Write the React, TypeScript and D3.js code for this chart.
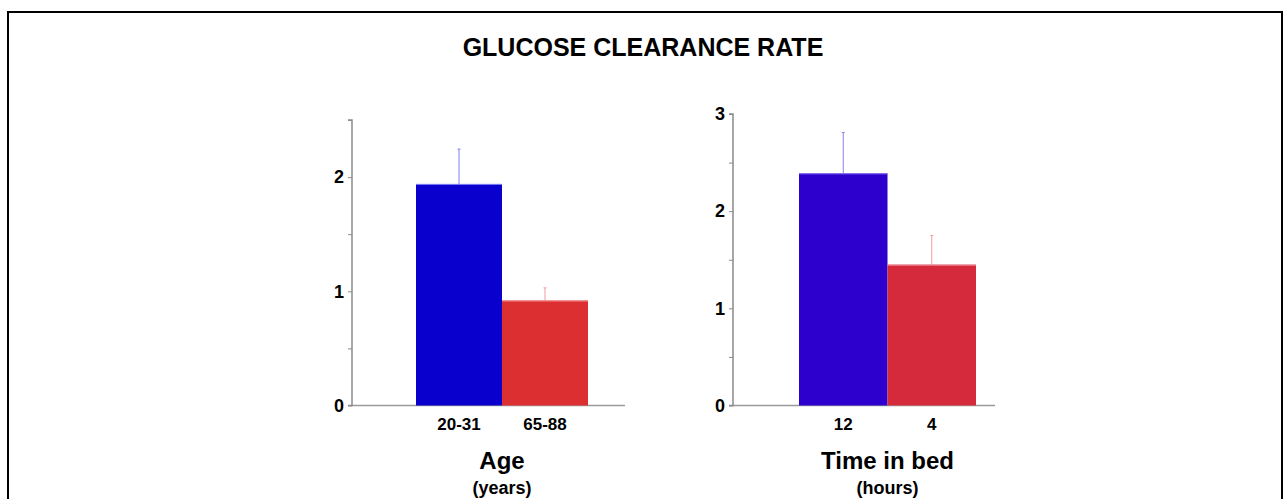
import React, { useEffect, useRef } from "react";
import * as d3 from "d3";

const title = "GLUCOSE CLEARANCE RATE";

const ageCategories = ["20-31", "65-88"];
const ageValues = [1.94, 0.92];
const ageErrors = [2.245, 1.03];
const ageTicks = [0, 0.5, 1, 1.5, 2, 2.5];
const ageColors = ["#0A00CE", "#DC2F32"];
const ageErrColors = ["#7F7FF5", "#F29A9A"];

const bedCategories = ["12", "4"];
const bedValues = [2.39, 1.45];
const bedErrors = [2.81, 1.75];
const bedTicks = [0, 0.5, 1, 1.5, 2, 2.5, 3];
const bedColors = ["#2D00CD", "#D42A3B"];
const bedErrColors = ["#8F7FF0", "#EE9AA4"];

const FONT = "'Liberation Sans', Arial, Helvetica, sans-serif";

type PanelSpec = {
  cats: string[];
  vals: number[];
  errs: number[];
  ticks: number[];
  colors: string[];
  errColors: string[];
  yMax: number;
  axisX: number;
  axisEnd: number;
  y0: number;
  yTop: number;
  band: [number, number];
  label: string;
  sub: string;
};

function drawPanel(g: any, p: PanelSpec) {
  const y = d3.scaleLinear().domain([0, p.yMax]).range([p.y0, p.yTop]);
  const x = d3.scaleBand().domain(p.cats).range(p.band).padding(0);

  g.append("line")
    .attr("x1", p.axisX).attr("x2", p.axisEnd)
    .attr("y1", y(0)).attr("y2", y(0))
    .attr("stroke", "#9a9a9a").attr("stroke-width", 1.5);

  p.cats.forEach((c, i) => {
    const bx = x(c)!;
    const bw = x.bandwidth();
    g.append("line")
      .attr("x1", bx + bw / 2).attr("x2", bx + bw / 2)
      .attr("y1", y(p.vals[i])).attr("y2", y(p.errs[i]))
      .attr("stroke", p.errColors[i]).attr("stroke-width", 1);
    g.append("line")
      .attr("x1", bx + bw / 2 - 1.5).attr("x2", bx + bw / 2 + 1.5)
      .attr("y1", y(p.errs[i])).attr("y2", y(p.errs[i]))
      .attr("stroke", p.errColors[i]).attr("stroke-width", 1);
    g.append("rect")
      .attr("x", bx).attr("y", y(p.vals[i]))
      .attr("width", bw).attr("height", y(0) - y(p.vals[i]))
      .attr("fill", p.colors[i]);
    g.append("line")
      .attr("x1", bx).attr("x2", bx + bw)
      .attr("y1", y(p.vals[i]) + 0.5).attr("y2", y(p.vals[i]) + 0.5)
      .attr("stroke", p.errColors[i]).attr("stroke-width", 1);
    g.append("text")
      .attr("x", bx + bw / 2).attr("y", y(0) + 24)
      .attr("text-anchor", "middle")
      .style("font-family", FONT).style("font-weight", "bold").style("font-size", "17px")
      .text(c);
  });

  const axis = d3.axisLeft(y)
    .tickValues(p.ticks)
    .tickSize(4)
    .tickPadding(4)
    .tickFormat((d) => (Number(d) % 1 === 0 ? String(d) : ""));
  const ag = g.append("g").attr("transform", `translate(${p.axisX},0)`).call(axis);
  ag.select(".domain").attr("stroke", "#8a8a8a").attr("stroke-width", 1.5)
    .attr("d", `M-4,${y(p.yMax)}H0V${y(0)}H-4`);
  ag.selectAll(".tick line").attr("stroke", "#8a8a8a");
  ag.selectAll(".tick text")
    .style("font-family", FONT).style("font-weight", "bold").style("font-size", "18px")
    .attr("fill", "#000");

  const cx = (p.band[0] + p.band[1]) / 2;
  g.append("text")
    .attr("x", cx).attr("y", 469)
    .attr("text-anchor", "middle")
    .style("font-family", FONT).style("font-weight", "bold").style("font-size", "24px")
    .text(p.label);
  g.append("text")
    .attr("x", cx).attr("y", 494)
    .attr("text-anchor", "middle")
    .style("font-family", FONT).style("font-weight", "bold").style("font-size", "18px")
    .text(p.sub);
}

export default function App() {
  const ref = useRef<SVGSVGElement>(null);
  useEffect(() => {
    const svg = d3.select(ref.current!);
    svg.selectAll("*").remove();
    svg.append("rect").attr("width", 1284).attr("height", 499).attr("fill", "#fff");
    svg.append("path")
      .attr("d", "M8,520V12H1282V520")
      .attr("fill", "none").attr("stroke", "#000").attr("stroke-width", 2);
    svg.append("text")
      .attr("x", 643).attr("y", 56)
      .attr("text-anchor", "middle")
      .style("font-family", FONT).style("font-weight", "bold").style("font-size", "25px")
      .text(title);

    const g = svg.append("g");
    drawPanel(g, {
      cats: ageCategories, vals: ageValues, errs: ageErrors, ticks: ageTicks,
      colors: ageColors, errColors: ageErrColors, yMax: 2.5,
      axisX: 352, axisEnd: 625, y0: 405.5, yTop: 120, band: [416, 588],
      label: "Age", sub: "(years)",
    });
    drawPanel(g, {
      cats: bedCategories, vals: bedValues, errs: bedErrors, ticks: bedTicks,
      colors: bedColors, errColors: bedErrColors, yMax: 3,
      axisX: 733, axisEnd: 995, y0: 405.5, yTop: 114, band: [799, 976],
      label: "Time in bed", sub: "(hours)",
    });
  }, []);
  return (
    <svg ref={ref} width={1284} height={499}
      style={{ position: "absolute", left: 0, top: 0, display: "block" }} />
  );
}
